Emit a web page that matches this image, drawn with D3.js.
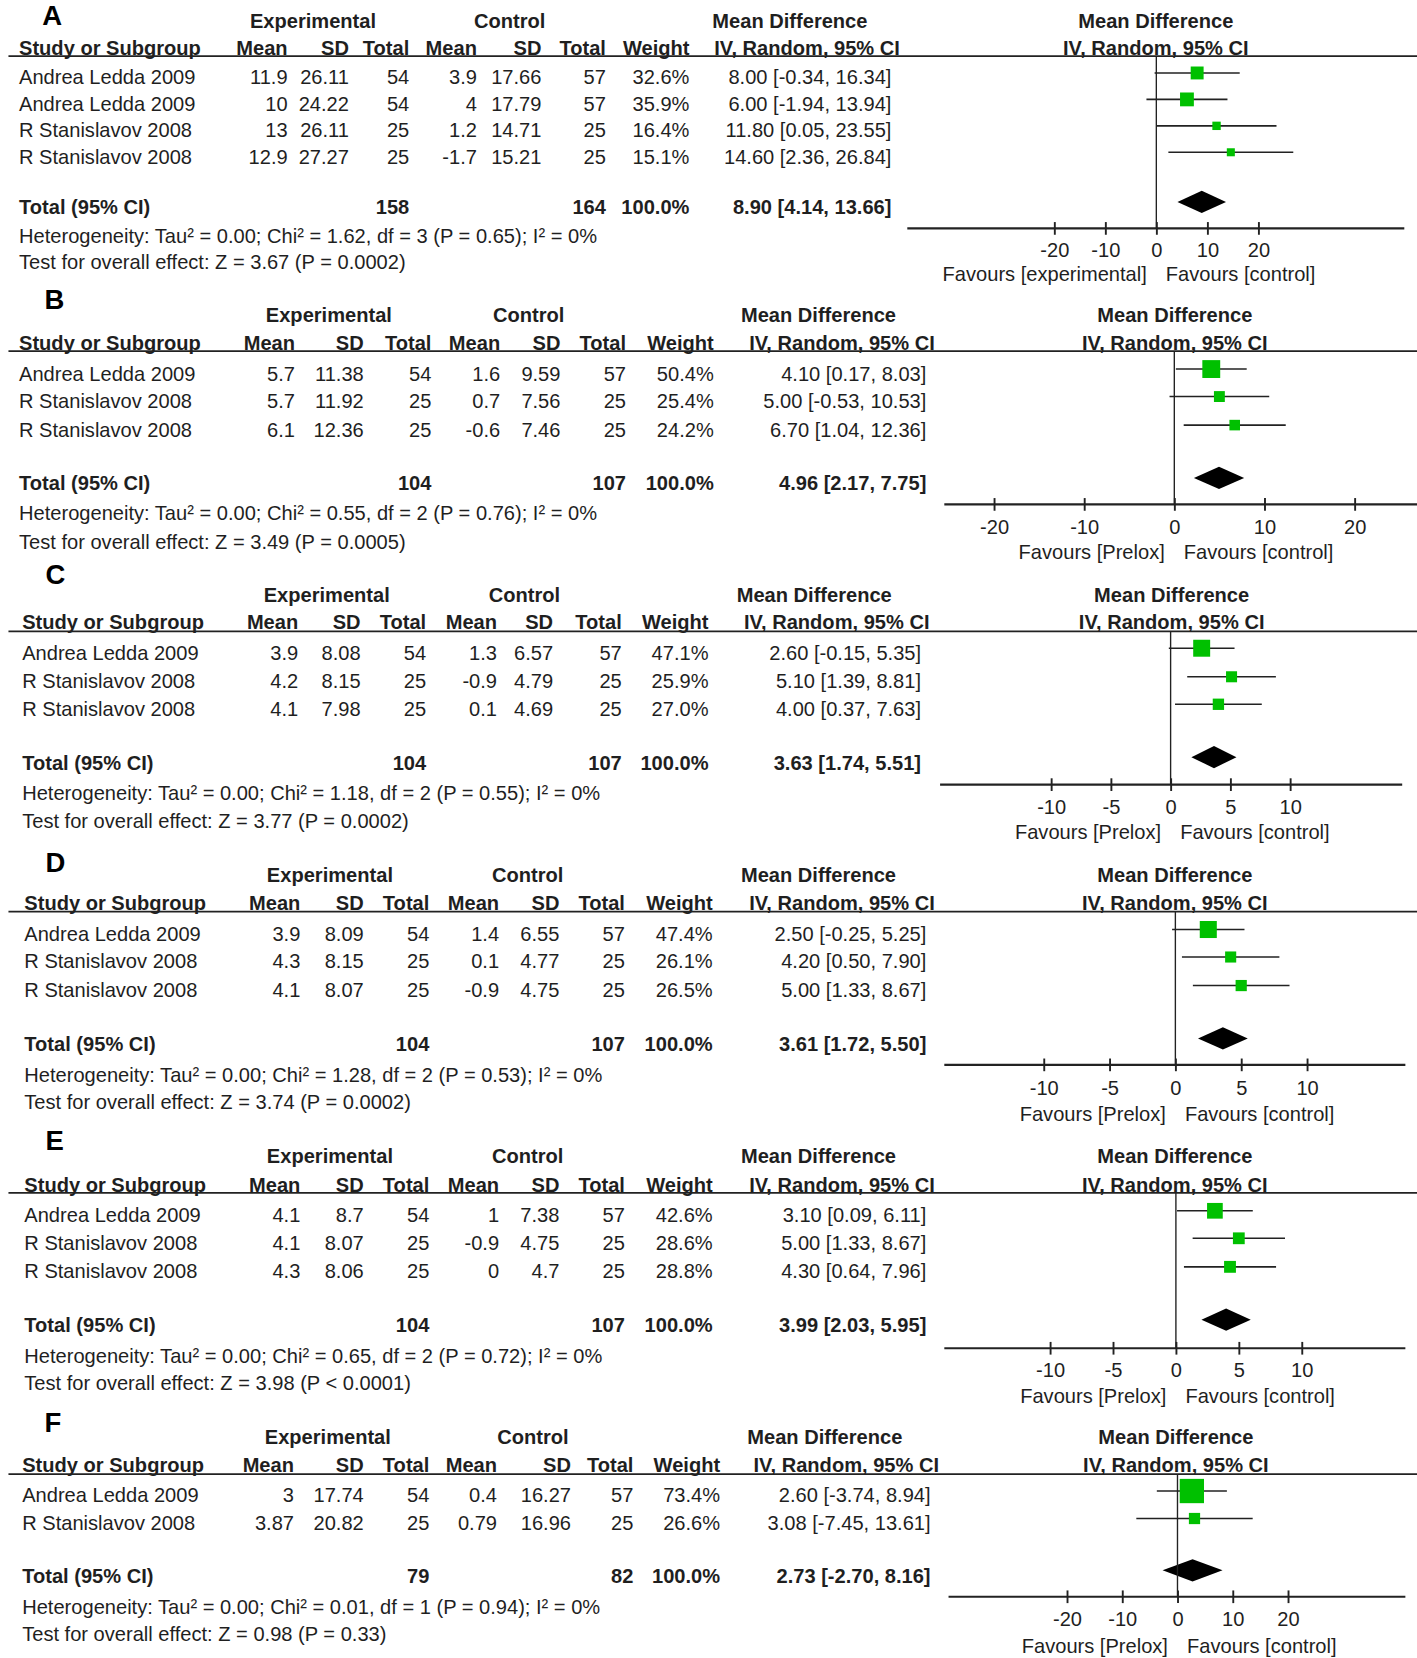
<!DOCTYPE html>
<html><head><meta charset="utf-8">
<script src="https://cdn.jsdelivr.net/npm/d3@7"></script>
<style>
html,body{margin:0;padding:0;background:#fff;}
svg text{font-family:"Liberation Sans",Arial,sans-serif;fill:#1f1f1f;}
</style></head>
<body><svg id="c" width="1417" height="1658"></svg>
<script>
// ---------- DATA ----------
const panelLabels = ["A","B","C","D","E","F"];
const colHeaders = ["Mean","SD","Total","Mean","SD","Total","Weight","IV, Random, 95% CI"];
// study, expMean, expSD, expN, ctlMean, ctlSD, ctlN, weight, MD, lo, hi
const rowsA = [
 ["Andrea Ledda 2009", 11.9, 26.11, 54, 3.9, 17.66, 57, 32.6, 8.00, -0.34, 16.34],
 ["Andrea Ledda 2009", 10, 24.22, 54, 4, 17.79, 57, 35.9, 6.00, -1.94, 13.94],
 ["R Stanislavov 2008", 13, 26.11, 25, 1.2, 14.71, 25, 16.4, 11.80, 0.05, 23.55],
 ["R Stanislavov 2008", 12.9, 27.27, 25, -1.7, 15.21, 25, 15.1, 14.60, 2.36, 26.84]];
const rowsB = [
 ["Andrea Ledda 2009", 5.7, 11.38, 54, 1.6, 9.59, 57, 50.4, 4.10, 0.17, 8.03],
 ["R Stanislavov 2008", 5.7, 11.92, 25, 0.7, 7.56, 25, 25.4, 5.00, -0.53, 10.53],
 ["R Stanislavov 2008", 6.1, 12.36, 25, -0.6, 7.46, 25, 24.2, 6.70, 1.04, 12.36]];
const rowsC = [
 ["Andrea Ledda 2009", 3.9, 8.08, 54, 1.3, 6.57, 57, 47.1, 2.60, -0.15, 5.35],
 ["R Stanislavov 2008", 4.2, 8.15, 25, -0.9, 4.79, 25, 25.9, 5.10, 1.39, 8.81],
 ["R Stanislavov 2008", 4.1, 7.98, 25, 0.1, 4.69, 25, 27.0, 4.00, 0.37, 7.63]];
const rowsD = [
 ["Andrea Ledda 2009", 3.9, 8.09, 54, 1.4, 6.55, 57, 47.4, 2.50, -0.25, 5.25],
 ["R Stanislavov 2008", 4.3, 8.15, 25, 0.1, 4.77, 25, 26.1, 4.20, 0.50, 7.90],
 ["R Stanislavov 2008", 4.1, 8.07, 25, -0.9, 4.75, 25, 26.5, 5.00, 1.33, 8.67]];
const rowsE = [
 ["Andrea Ledda 2009", 4.1, 8.7, 54, 1, 7.38, 57, 42.6, 3.10, 0.09, 6.11],
 ["R Stanislavov 2008", 4.1, 8.07, 25, -0.9, 4.75, 25, 28.6, 5.00, 1.33, 8.67],
 ["R Stanislavov 2008", 4.3, 8.06, 25, 0, 4.7, 25, 28.8, 4.30, 0.64, 7.96]];
const rowsF = [
 ["Andrea Ledda 2009", 3, 17.74, 54, 0.4, 16.27, 57, 73.4, 2.60, -3.74, 8.94],
 ["R Stanislavov 2008", 3.87, 20.82, 25, 0.79, 16.96, 25, 26.6, 3.08, -7.45, 13.61]];
// expN, ctlN, MD, lo, hi
const totalA = [158, 164, 8.90, 4.14, 13.66];
const totalB = [104, 107, 4.96, 2.17, 7.75];
const totalC = [104, 107, 3.63, 1.74, 5.51];
const totalD = [104, 107, 3.61, 1.72, 5.50];
const totalE = [104, 107, 3.99, 2.03, 5.95];
const totalF = [79, 82, 2.73, -2.70, 8.16];
const hetTexts = [
 "Heterogeneity: Tau² = 0.00; Chi² = 1.62, df = 3 (P = 0.65); I² = 0%",
 "Heterogeneity: Tau² = 0.00; Chi² = 0.55, df = 2 (P = 0.76); I² = 0%",
 "Heterogeneity: Tau² = 0.00; Chi² = 1.18, df = 2 (P = 0.55); I² = 0%",
 "Heterogeneity: Tau² = 0.00; Chi² = 1.28, df = 2 (P = 0.53); I² = 0%",
 "Heterogeneity: Tau² = 0.00; Chi² = 0.65, df = 2 (P = 0.72); I² = 0%",
 "Heterogeneity: Tau² = 0.00; Chi² = 0.01, df = 1 (P = 0.94); I² = 0%"];
const testTexts = [
 "Test for overall effect: Z = 3.67 (P = 0.0002)",
 "Test for overall effect: Z = 3.49 (P = 0.0005)",
 "Test for overall effect: Z = 3.77 (P = 0.0002)",
 "Test for overall effect: Z = 3.74 (P = 0.0002)",
 "Test for overall effect: Z = 3.98 (P < 0.0001)",
 "Test for overall effect: Z = 0.98 (P = 0.33)"];
const ticksWide = [-20, -10, 0, 10, 20];
const ticksNarrow = [-10, -5, 0, 5, 10];
const favoursLeft = ["Favours [experimental]","Favours [Prelox]","Favours [Prelox]","Favours [Prelox]","Favours [Prelox]","Favours [Prelox]"];
const favoursRight = "Favours [control]";

// ---------- LAYOUT (in 1340x1568 units, scaled up) ----------
const K = 1417/1340;
const layouts = [
 {rows: rowsA, total: totalA, ticks: ticksWide, lx:40, ly:14, r1:20, r2:45, line:53, rowY:[73,98,123,148], tot:196, het:223, test:248,
  axisY:216, tickRange:[997,1190], ax:[858,1328], tickY:236, favY:259, studyX:18,
  cols:[272,330,387,451,512,573,652,843], exp:296, ctl:482, md:747, pmd:1093},
 {rows: rowsB, total: totalB, ticks: ticksWide, lx:42, ly:283, r1:298, r2:324, line:332, rowY:[353,379,406], tot:457, het:485, test:512,
  axisY:477, tickRange:[940,1281], ax:[893,1340], tickY:498, favY:522, studyX:18,
  cols:[279,344,408,473,530,592,675,876], exp:311, ctl:500, md:774, pmd:1111},
 {rows: rowsC, total: totalC, ticks: ticksNarrow, lx:43, ly:543, r1:562, r2:588, line:597, rowY:[617,644,670], tot:721, het:750, test:776,
  axisY:742, tickRange:[994,1220], ax:[889,1326], tickY:763, favY:787, studyX:21,
  cols:[282,341,403,470,523,588,670,871], exp:309, ctl:496, md:770, pmd:1108},
 {rows: rowsD, total: totalD, ticks: ticksNarrow, lx:43, ly:815, r1:827, r2:854, line:862, rowY:[883,909,936], tot:987, het:1016, test:1042,
  axisY:1007, tickRange:[987,1236], ax:[893,1329], tickY:1029, favY:1053, studyX:23,
  cols:[284,344,406,472,529,591,674,876], exp:312, ctl:499, md:774, pmd:1111},
 {rows: rowsE, total: totalE, ticks: ticksNarrow, lx:43, ly:1078, r1:1093, r2:1120, line:1128, rowY:[1149,1175,1202], tot:1253, het:1282, test:1308,
  axisY:1275, tickRange:[993,1231], ax:[893,1329], tickY:1295, favY:1320, studyX:23,
  cols:[284,344,406,472,529,591,674,876], exp:312, ctl:499, md:774, pmd:1111},
 {rows: rowsF, total: totalF, ticks: ticksWide, lx:42, ly:1345, r1:1359, r2:1385, line:1394, rowY:[1414,1440], tot:1490, het:1519, test:1545,
  axisY:1510, tickRange:[1009,1218], ax:[897,1329], tickY:1531, favY:1556, studyX:21,
  cols:[278,344,406,470,540,599,681,880], exp:310, ctl:504, md:780, pmd:1112}
];

const FS = 19;
const svg = d3.select("#c");
const root = svg.append("g").attr("transform", `scale(${K})`);
const sizeScale = d3.scaleLinear().domain([0, 100]).range([3.6, 30]);

function txt(g, x, y, s, anchor, bold, size) {
  return g.append("text").attr("x", x).attr("y", y).attr("dy", "0.36em")
    .attr("text-anchor", anchor || "start")
    .attr("font-weight", bold ? "bold" : "normal")
    .attr("font-size", size || FS).text(s);
}
const f2 = v => v.toFixed(2);
const ciText = (m, lo, hi) => `${f2(m)} [${f2(lo)}, ${f2(hi)}]`;

layouts.forEach((L, pi) => {
  const g = root.append("g");
  // panel letter
  txt(g, L.lx, L.ly, panelLabels[pi], "start", true, 26).style("fill", "#000");
  // group headers
  txt(g, L.exp, L.r1, "Experimental", "middle", true);
  txt(g, L.ctl, L.r1, "Control", "middle", true);
  txt(g, L.md, L.r1, "Mean Difference", "middle", true);
  txt(g, L.pmd, L.r1, "Mean Difference", "middle", true);
  // column headers
  txt(g, L.studyX, L.r2, "Study or Subgroup", "start", true);
  colHeaders.forEach((h, i) => {
    const x = i === 7 ? L.cols[i] + 8 : L.cols[i];
    txt(g, x, L.r2, h, "end", true);
  });
  txt(g, L.pmd, L.r2, "IV, Random, 95% CI", "middle", true);
  // header rule
  g.append("line").attr("x1", 8).attr("x2", 1340).attr("y1", L.line).attr("y2", L.line)
    .attr("stroke", "#222").attr("stroke-width", 1.6);

  const x = d3.scaleLinear().domain([L.ticks[0], L.ticks[L.ticks.length - 1]]).range(L.tickRange);

  // study rows
  L.rows.forEach((r, i) => {
    const y = L.rowY[i];
    txt(g, L.studyX, y, r[0], "start");
    const vals = [String(r[1]), String(r[2]), String(r[3]), String(r[4]), String(r[5]), String(r[6]),
                  r[7].toFixed(1) + "%", ciText(r[8], r[9], r[10])];
    vals.forEach((v, j) => txt(g, L.cols[j], y, v, "end"));
    // whisker
    g.append("line").attr("x1", x(r[9])).attr("x2", x(r[10])).attr("y1", y - 4).attr("y2", y - 4)
      .attr("stroke", "#222").attr("stroke-width", 1.5);
    const s = sizeScale(r[7]);
    g.append("rect").attr("x", x(r[8]) - s / 2).attr("y", y - 4 - s / 2).attr("width", s).attr("height", s)
      .attr("fill", "#00c000");
  });

  // totals
  const t = L.total;
  txt(g, L.studyX, L.tot, "Total (95% CI)", "start", true);
  txt(g, L.cols[2], L.tot, String(t[0]), "end", true);
  txt(g, L.cols[5], L.tot, String(t[1]), "end", true);
  txt(g, L.cols[6], L.tot, "100.0%", "end", true);
  txt(g, L.cols[7], L.tot, ciText(t[2], t[3], t[4]), "end", true);
  const dy = L.tot - 5, hh = 10.5;
  g.append("path")
    .attr("d", `M${x(t[3])},${dy} L${x(t[2])},${dy - hh} L${x(t[4])},${dy} L${x(t[2])},${dy + hh} Z`)
    .attr("fill", "#000");

  txt(g, L.studyX, L.het, hetTexts[pi], "start");
  txt(g, L.studyX, L.test, testTexts[pi], "start");

  // zero line
  g.append("line").attr("x1", x(0)).attr("x2", x(0)).attr("y1", L.line).attr("y2", L.axisY)
    .attr("stroke", "#222").attr("stroke-width", 1.3);
  // axis
  g.append("line").attr("x1", L.ax[0]).attr("x2", L.ax[1]).attr("y1", L.axisY).attr("y2", L.axisY)
    .attr("stroke", "#222").attr("stroke-width", 2);
  const ax = g.append("g").attr("transform", `translate(0,${L.axisY})`)
    .call(d3.axisBottom(x).tickValues(L.ticks).tickSize(6).tickSizeOuter(0).tickPadding(8).tickFormat(d => String(d)));
  ax.select(".domain").remove();
  ax.selectAll(".tick line").attr("y1", -6).attr("stroke", "#222").attr("stroke-width", 1.8);
  ax.selectAll(".tick text").attr("font-size", FS).attr("font-family", null).attr("y", L.tickY - L.axisY).attr("dy", "0.36em");
  txt(g, x(0) - 9, L.favY, favoursLeft[pi], "end");
  txt(g, x(0) + 9, L.favY, favoursRight, "start");
});
</script></body></html>
